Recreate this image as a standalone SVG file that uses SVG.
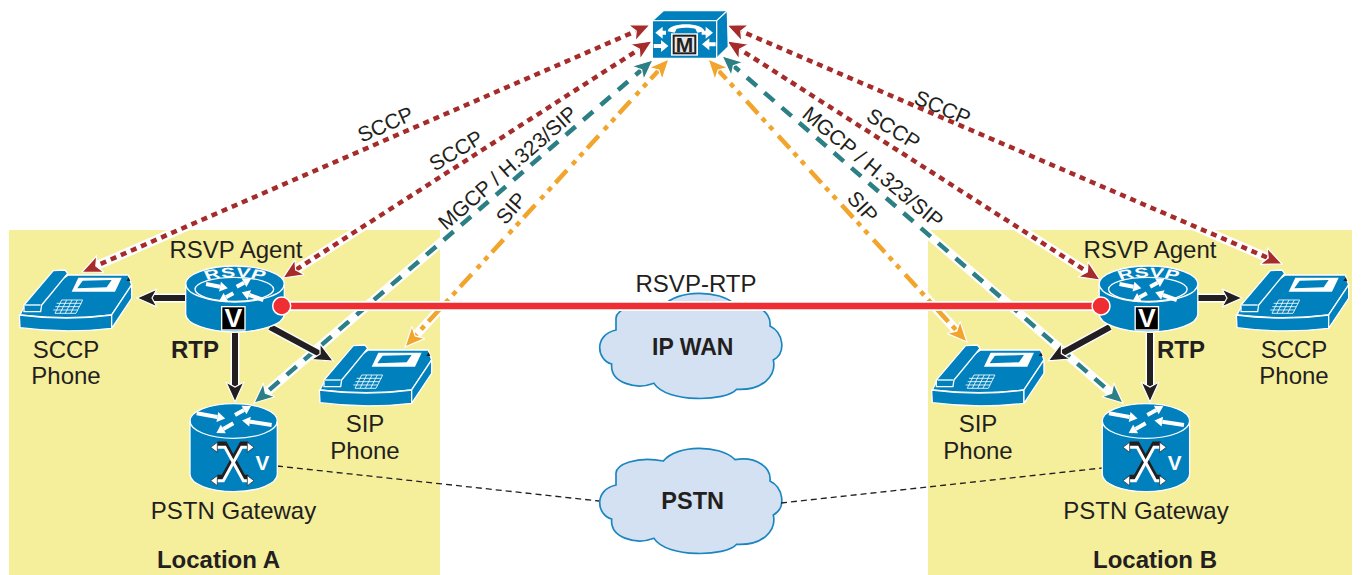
<svg xmlns="http://www.w3.org/2000/svg" xmlns:xlink="http://www.w3.org/1999/xlink" width="1361" height="575" viewBox="0 0 1361 575">
<style>
text{font-family:"Liberation Sans",Arial,sans-serif;fill:#231F20}
.t{font-size:24px;text-anchor:middle}
.b{font-size:24px;font-weight:bold;text-anchor:middle}
.l{font-size:21px;text-anchor:middle}
.panel{fill:#F5EE9B}
.cloud{fill:#D3E1F2;stroke:#1A86C0;stroke-width:5}
.blue{fill:#0080BC;stroke:#fff;stroke-width:4;stroke-linejoin:round}
.wl{fill:none;stroke:#fff;stroke-width:4}
.wf{fill:#fff;stroke:none}
.case{fill:none;stroke:#fff;stroke-width:9}
.red{fill:none;stroke:#A52C2A;stroke-width:4.5;stroke-dasharray:6 5;marker-start:url(#hr);marker-end:url(#hr)}
.teal{fill:none;stroke:#2B7F85;stroke-width:4.5;stroke-dasharray:13 10;marker-start:url(#ht);marker-end:url(#ht)}
.org{fill:none;stroke:#F2A52D;stroke-width:4.5;stroke-dasharray:17 6 5 6 5 8;marker-start:url(#ho);marker-end:url(#ho)}
.blk{fill:none;stroke:#231F20;stroke-width:6;marker-end:url(#hk)}
.bcase{fill:none;stroke:#fff;stroke-width:9}
.dash{fill:none;stroke:#231F20;stroke-width:1.3;stroke-dasharray:6 4}
.wa{stroke:#fff;stroke-width:12;marker-end:url(#wh)}
.xk{fill:none;stroke:#231F20;stroke-width:15}
.xw{fill:none;stroke:#fff;stroke-width:9;marker-start:url(#xh);marker-end:url(#xh)}
</style>
<defs>
<marker id="hr" markerUnits="userSpaceOnUse" markerWidth="26" markerHeight="26" viewBox="0 0 26 26" refX="10" refY="13" orient="auto-start-reverse"><path d="M20,13 L0,4 L5,13 L0,22 Z" fill="#A52C2A" stroke="#fff" stroke-width="1.2"/></marker>
<marker id="ht" markerUnits="userSpaceOnUse" markerWidth="26" markerHeight="26" viewBox="0 0 26 26" refX="10" refY="13" orient="auto-start-reverse"><path d="M20,13 L0,4 L5,13 L0,22 Z" fill="#2B7F85" stroke="#fff" stroke-width="1.2"/></marker>
<marker id="ho" markerUnits="userSpaceOnUse" markerWidth="26" markerHeight="26" viewBox="0 0 26 26" refX="10" refY="13" orient="auto-start-reverse"><path d="M20,13 L0,4 L5,13 L0,22 Z" fill="#F2A52D" stroke="#fff" stroke-width="1.2"/></marker>
<marker id="hk" markerUnits="userSpaceOnUse" markerWidth="26" markerHeight="26" viewBox="0 0 26 26" refX="10" refY="13" orient="auto"><path d="M20,13 L0,4 L5,13 L0,22 Z" fill="#231F20" stroke="#fff" stroke-width="1.2"/></marker>
<marker id="wh" markerUnits="userSpaceOnUse" markerWidth="44" markerHeight="44" viewBox="0 0 44 44" refX="6" refY="22" orient="auto"><path d="M30,22 L6,7 L6,37 Z" fill="#fff"/></marker>
<marker id="xh" markerUnits="userSpaceOnUse" markerWidth="44" markerHeight="44" viewBox="0 0 44 44" refX="8" refY="22" orient="auto-start-reverse"><path d="M28,22 L8,7 L8,37 Z" fill="#fff" stroke="#231F20" stroke-width="2"/></marker>
<g id="phone">
<path class="blue" d="M205,135 L385,135 L395,165 L335,255 C250,265 150,265 60,255 L75,225 Z"/>
<path class="blue" d="M58,255 C150,267 250,267 335,255 L335,295 C250,305 150,305 60,293 Z"/>
<path class="blue" d="M335,255 L395,165 L395,205 L335,295 Z"/>
<path class="blue" d="M72,245 L72,225 L160,122 L195,120 L203,130 L150,195 L125,225 L122,245 Z"/>
<path class="wl" d="M75,225 L122,225" />
<path class="wf" d="M235,143 L365,143 L345,185 L215,185 Z"/>
<path d="M248,152 L335,150 L320,172 L232,175 Z" fill="#0080BC"/>
<path d="M379,153 L391,153 L386,142 Z" fill="#231F20"/>
<path d="M185,210 L248,210 L228,250 L165,250 Z M170,220 L244,220 M166,230 L238,230 M160,240 L233,240 M200,210 L180,250 M216,210 L196,250 M232,210 L212,250" fill="none" stroke="#fff" stroke-width="2.5"/>
</g>
<g id="router">
<path class="blue" d="M47,72 A148,54 0 0 1 343,72 L343,162 A148,54 0 0 1 47,162 Z"/>
<path class="wl" d="M47,72 A148,54 0 0 0 343,72"/>
<ellipse cx="193" cy="88" rx="118" ry="36" class="wl"/>
<g transform="translate(195,0) scale(1.6,1)">
<path id="rsvpArc" d="M-56,62 Q0,40 56,62" fill="none"/>
<text style="fill:#fff;font-size:40px;font-weight:bold;text-anchor:middle"><textPath href="#rsvpArc" xlink:href="#rsvpArc" startOffset="50%">RSVP</textPath></text>
</g>
<line class="wa" x1="108" y1="72" x2="150" y2="80"/>
<line class="wa" x1="200" y1="80" x2="222" y2="68"/>
<line class="wa" x1="190" y1="100" x2="168" y2="112"/>
<line class="wa" x1="280" y1="120" x2="238" y2="105"/>
<rect x="155" y="140" width="70" height="70" fill="#000" stroke="#fff" stroke-width="4"/>
<text x="190" y="202" style="fill:#fff;font-size:80px;font-weight:bold;text-anchor:middle">V</text>
</g>
<g id="gateway">
<path class="blue" d="M150,78 A131,52 0 0 1 412,78 L412,238 A131,52 0 0 1 150,238 Z"/>
<path class="wl" d="M150,78 A131,52 0 0 0 412,78"/>
<line class="wa" x1="170" y1="55" x2="232" y2="66"/>
<line class="wa" x1="285" y1="60" x2="312" y2="45"/>
<line class="wa" x1="280" y1="85" x2="250" y2="102"/>
<line class="wa" x1="395" y1="90" x2="330" y2="80"/>
<path class="xk" d="M232,151 L255,151 L310,251 L325,251" transform="translate(0,-4)"/>
<path class="xk" d="M325,151 L305,151 L250,251 L232,251" transform="translate(0,-4)"/>
<path class="xw" d="M232,157 L255,157 L310,257 L322,257"/>
<path class="xw" d="M322,157 L305,157 L250,257 L232,257"/>
<text x="367" y="226" style="fill:#fff;font-size:62px;font-weight:bold;text-anchor:middle">V</text>
</g>
<path id="cloudShape" class="cloud" d="M108,178 C105,148 170,123 250,138 C290,88 420,88 465,134 C530,123 575,158 570,198 C610,218 620,278 580,300 C590,345 550,392 470,388 C440,425 260,430 222,370 C170,390 90,370 95,312 C50,300 40,225 108,210 Z"/>
</defs>

<rect class="panel" x="9" y="230" width="431" height="345"/>
<rect class="panel" x="928" y="230" width="424" height="345"/>

<g id="ipwan">
<use href="#cloudShape" xlink:href="#cloudShape" transform="translate(580,260) scale(.3333)"/>
<text class="b" style="font-size:23px" x="692.7" y="355">IP WAN</text>
</g>
<g id="pstn">
<use href="#cloudShape" xlink:href="#cloudShape" transform="translate(580,415) scale(.3333)"/>
<text class="b" style="font-size:23.5px" x="692.7" y="509">PSTN</text>
</g>

<g id="connectors">
<path class="dash" d="M277,466 L599,501"/>
<path class="dash" d="M781,503 L1102,468"/>

<path class="case" d="M640.8,29 L91.2,268"/><path class="red" d="M640.8,29 L91.2,268"/>
<path class="case" d="M643.6,46.4 L291.4,272.6"/><path class="red" d="M643.6,46.4 L291.4,272.6"/>
<path class="case" d="M645.4,66.5 L261.6,396.5"/><path class="teal" d="M645.4,66.5 L261.6,396.5"/>
<path class="case" d="M662.2,66.4 L411.8,339.6"/><path class="org" d="M662.2,66.4 L411.8,339.6"/>
<path class="case" d="M714.8,66.4 L960.2,334.6"/><path class="org" d="M714.8,66.4 L960.2,334.6"/>
<path class="case" d="M729.6,62.5 L1115.4,396.5"/><path class="teal" d="M729.6,62.5 L1115.4,396.5"/>
<path class="case" d="M735.4,46.4 L1091.6,274.6"/><path class="red" d="M735.4,46.4 L1091.6,274.6"/>
<path class="case" d="M736.2,29 L1272.8,260"/><path class="red" d="M736.2,29 L1272.8,260"/>

<path class="bcase" d="M185,298 L147,298"/><path class="blk" d="M185,298 L147,298"/>
<path class="bcase" d="M235,333 L235,392"/><path class="blk" d="M235,333 L235,392"/>
<path class="bcase" d="M270,327 L324.5,356.4"/><path class="blk" d="M270,327 L324.5,356.4"/>
<path class="bcase" d="M1197,298 L1232,298"/><path class="blk" d="M1197,298 L1232,298"/>
<path class="bcase" d="M1150,333 L1150,392"/><path class="blk" d="M1150,333 L1150,392"/>
<path class="bcase" d="M1110,327 L1057,356"/><path class="blk" d="M1110,327 L1057,356"/>
</g>

<g id="manager">
<g transform="translate(620,0) scale(.3333)">
<path class="blue" d="M97,62 L130,32 L322,32 L325,140 L290,175 L97,175 Z"/>
<path class="wl" d="M97,62 L290,62 L322,32 M290,62 L290,175"/>
<path class="wf" d="M143,94 C146,66 250,66 253,94 L232,98 L226,86 C205,82 190,82 170,86 L164,98 Z"/>
<path class="wf" d="M106,98 L128,80 L128,92 L138,92 L138,104 L128,104 L128,116 Z"/>
<path class="wf" d="M145,138 L123,120 L123,132 L101,132 L101,144 L123,144 L123,156 Z"/>
<path class="wf" d="M279,98 L257,80 L257,92 L245,92 L245,104 L257,104 L257,116 Z"/>
<path class="wf" d="M246,133 L268,115 L268,127 L287,127 L287,139 L268,139 L268,151 Z"/>
<rect x="153" y="100" width="81" height="67" fill="#fff"/>
<rect x="161" y="107" width="65" height="53" fill="#E6E6E6" stroke="#231F20" stroke-width="6"/>
<text x="193.500" y="155" style="font-size:63px;font-weight:bold;text-anchor:middle">M</text>
</g>
</g>

<g id="rsvp-wan">
<path d="M282,306 L1101,306" fill="none" stroke="#fff" stroke-width="10"/>
<path d="M282,306 L1101,306" fill="none" stroke="#EE2E33" stroke-width="6.500"/>
<text class="t" x="696" y="291.700">RSVP-RTP</text>
</g>

<g id="agent-a">
<use href="#router" xlink:href="#router" transform="translate(170,260) scale(.3333)"/>
<circle cx="281.700" cy="306" r="9" fill="#EE2E33" stroke="#fff" stroke-width="1.500"/>
<text class="t" x="236" y="258">RSVP Agent</text>
</g>
<g id="agent-b">
<use href="#router" xlink:href="#router" transform="translate(1083.500,260) scale(.3333)"/>
<circle cx="1101" cy="306" r="9" fill="#EE2E33" stroke="#fff" stroke-width="1.500"/>
<text class="t" x="1150" y="258">RSVP Agent</text>
</g>

<g id="sccp-a">
<use href="#phone" xlink:href="#phone" transform="translate(0,230) scale(.3333)"/>
<text class="t" x="66" y="357.700">SCCP</text><text class="t" x="66" y="384">Phone</text>
</g>
<g id="sip-a">
<use href="#phone" xlink:href="#phone" transform="translate(300,305) scale(.3333)"/>
<text class="t" x="365" y="432">SIP</text><text class="t" x="365" y="459">Phone</text>
</g>
<g id="sip-b">
<use href="#phone" xlink:href="#phone" transform="translate(912.300,305) scale(.3333)"/>
<text class="t" x="978" y="432">SIP</text><text class="t" x="978" y="459">Phone</text>
</g>
<g id="sccp-b">
<use href="#phone" xlink:href="#phone" transform="translate(1217,230) scale(.3333)"/>
<text class="t" x="1294" y="357.700">SCCP</text><text class="t" x="1294" y="384">Phone</text>
</g>

<g id="gateway-a">
<use href="#gateway" xlink:href="#gateway" transform="translate(140,395) scale(.3333)"/>
<text class="t" x="233.500" y="519">PSTN Gateway</text>
</g>
<g id="gateway-b">
<use href="#gateway" xlink:href="#gateway" transform="translate(1052.300,395) scale(.3333)"/>
<text class="t" x="1146" y="519">PSTN Gateway</text>
</g>

<g id="labels">
<text class="b" x="195" y="358">RTP</text>
<text class="b" x="1181" y="358">RTP</text>
<text class="b" x="218.500" y="568.300">Location A</text>
<text class="b" x="1155" y="568.300">Location B</text>
<text class="l" transform="translate(388.300,131) rotate(-24)">SCCP</text>
<text class="l" transform="translate(459.700,156.700) rotate(-31)">SCCP</text>
<text class="l" transform="translate(512.300,173.300) rotate(-41)">MGCP / H.323/SIP</text>
<text class="l" transform="translate(516.700,213) rotate(-49)">SIP</text>
<text class="l" transform="translate(939.700,114.300) rotate(23)">SCCP</text>
<text class="l" transform="translate(889.700,135) rotate(32)">SCCP</text>
<text class="l" transform="translate(868.300,172.700) rotate(40)">MGCP / H.323/SIP</text>
<text class="l" transform="translate(857.300,211.700) rotate(48)">SIP</text>
</g>
</svg>
